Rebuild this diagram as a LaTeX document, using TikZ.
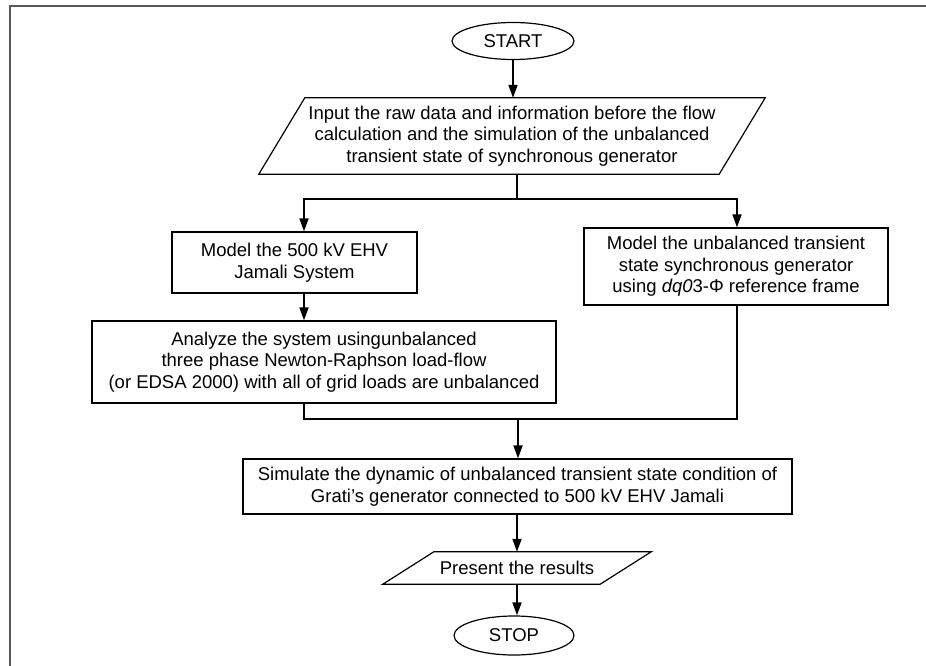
\documentclass[tikz,border=0pt]{standalone}
\usepackage{fontspec}
\setmainfont{Liberation Sans}
\usetikzlibrary{shapes.geometric,arrows.meta}
\begin{document}
\begin{tikzpicture}[x=1pt,y=-1pt,
  font=\fontsize{18.5}{21.5}\selectfont,
  box/.style={draw, line width=1.2pt, align=center, inner sep=0pt, rectangle},
  term/.style={draw, line width=1.2pt, ellipse, inner sep=0pt},
  para/.style={align=center, inner sep=0pt, rectangle},
  paraline/.style={line width=1.2pt, line join=miter},
  conn/.style={line width=1.7pt},
  arr/.style={conn, -{Triangle[length=13pt,width=9pt]}},
  framestyle/.style={draw=black!65, line width=1.5pt}]
\useasboundingbox (0,0) rectangle (926,666);
\coordinate (fTL) at (10,6);
\coordinate (fTR) at (926,6);
\coordinate (fBL) at (10,666);
\draw[framestyle] (fTR) -- (fTL) -- (fBL);

\node[term, minimum width=122pt, minimum height=37pt] (start) at (513,41) {START};
\node[para, minimum width=414pt, minimum height=76pt] (input) at (512,136)
  {Input the raw data and information before the flow\\calculation and the simulation of the unbalanced\\transient state of synchronous generator};
\draw[paraline] (input.north west) -- ([xshift=46pt]input.north east) -- (input.south east) -- ([xshift=-46pt]input.south west) -- cycle;

\node[box, minimum width=245pt, minimum height=61pt] (model1) at (294.5,262.5)
  {Model the 500 kV EHV\\Jamali System};
\node[box, minimum width=304pt, minimum height=77pt] (model2) at (736,266.5)
  {Model the unbalanced transient\\state synchronous generator\\using \textit{dq0}3-Φ reference frame};
\node[box, minimum width=464pt, minimum height=82pt] (analyze) at (324,362)
  {Analyze the system usingunbalanced\\three phase Newton-Raphson load-flow\\(or EDSA 2000) with all of grid loads are unbalanced};
\node[box, minimum width=549pt, minimum height=55pt] (simulate) at (517.5,486.5)
  {Simulate the dynamic of unbalanced transient state condition of\\Grati’s generator connected to 500 kV EHV Jamali};
\node[para, minimum width=166pt, minimum height=32pt] (present) at (517,568)
  {Present the results};
\draw[paraline] (present.north west) -- ([xshift=51pt]present.north east) -- (present.south east) -- ([xshift=-51pt]present.south west) -- cycle;
\node[term, minimum width=120pt, minimum height=39pt] (stop) at (514,635.5) {STOP};

\coordinate (split) at (517,199);
\coordinate (sl) at (304,199);
\coordinate (sr) at (737,199);
\coordinate (ml) at (304,419);
\coordinate (mr) at (737,419);
\coordinate (mm) at (518,419);

\draw[arr] (start.south) -- (start.south |- input.north);
\draw[conn] (split |- input.south) -- (split);
\draw[arr] (split) -- (sl) -- (sl |- model1.north);
\draw[arr] (split) -- (sr) -- (sr |- model2.north);
\draw[arr] (sl |- model1.south) -- (sl |- analyze.north);
\draw[conn] (sl |- analyze.south) -- (ml) -- (mr) -- (sr |- model2.south);
\draw[arr] (mm) -- (mm |- simulate.north);
\draw[arr] (simulate.south -| present.south) -- (present.north);
\draw[arr] (present.south) -- (present.south |- stop.north);
\end{tikzpicture}
\end{document}
